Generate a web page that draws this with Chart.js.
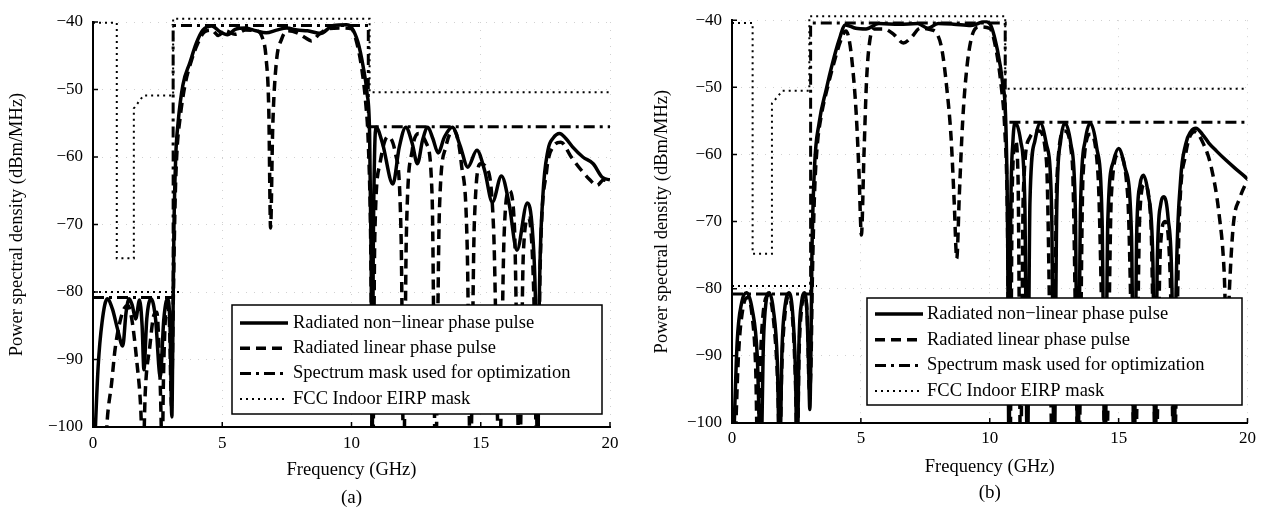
<!DOCTYPE html>
<html>
<head>
<meta charset="utf-8">
<script src="https://cdn.jsdelivr.net/npm/chart.js@4.4.1/dist/chart.umd.min.js"></script>
<style>
  html, body { margin: 0; padding: 0; background: #fff; }
  #wrap { position: relative; width: 1261px; height: 516px; }
  canvas { position: absolute; top: 0; }
  #psdA { left: 0; }
  #psdB { left: 630px; }
</style>
</head>
<body>
<div id="wrap">
  <canvas id="psdA" width="630" height="516"></canvas>
  <canvas id="psdB" width="631" height="516"></canvas>
</div>
<script>
// [frequency GHz, PSD dBm/MHz]; values below -100 are nulls that run off the axis
const nonlinA = [
  [0.05,-104],[0.2,-91],[0.35,-84.5],[0.55,-81],[0.75,-82.5],[0.95,-85.5],[1.15,-88],[1.28,-83],[1.4,-81],
  [1.52,-82],[1.65,-84],[1.8,-81.2],[1.9,-85],[1.97,-91.5],[2.08,-84],[2.25,-81],[2.42,-84],[2.6,-92.5],
  [2.74,-84],[2.88,-81],[2.98,-85],[3.05,-98.5],[3.09,-86],[3.13,-71],[3.2,-60],[3.29,-55],[3.48,-49.3],
  [3.75,-46],[4.0,-43.1],[4.25,-41.2],[4.6,-40.6],[4.9,-41.4],[5.2,-41.9],[5.5,-41.1],[5.9,-40.9],[6.3,-41.3],
  [6.7,-41.6],[7.1,-41.2],[7.5,-40.9],[7.9,-41.2],[8.3,-41.3],[8.8,-41.7],[9.3,-40.5],[9.8,-40.4],[10.0,-40.8],
  [10.25,-43],[10.45,-46.6],[10.6,-50.5],[10.7,-56.5],[10.76,-75],[10.8,-105],[10.84,-75],[10.89,-60],
  [10.95,-55.6],[11.2,-58],[11.6,-64],[11.85,-58.5],[12.1,-55.6],[12.35,-58],[12.55,-61],[12.75,-57.5],
  [12.95,-55.6],[13.15,-57.3],[13.35,-59.4],[13.6,-57],[13.9,-55.6],[14.2,-58.3],[14.5,-61.5],[14.85,-59],
  [15.15,-62],[15.45,-66.7],[15.8,-62.8],[16.1,-67],[16.4,-73.8],[16.8,-66.8],[17.0,-71],[17.12,-82],
  [17.2,-105],[17.27,-80],[17.4,-66],[17.6,-59],[17.8,-57.2],[18.05,-56.5],[18.3,-57.3],[18.55,-58.5],
  [18.95,-60],[19.35,-61],[19.7,-63],[20,-63.4]
];
const linA = [
  [0.45,-106],[0.55,-99],[0.72,-93.5],[0.85,-88.6],[1.03,-84.6],[1.2,-82.5],[1.35,-82],[1.5,-84],[1.7,-90.5],
  [1.85,-97.5],[1.93,-106],[2.02,-95],[2.2,-88],[2.35,-83.5],[2.47,-83],[2.56,-89],[2.63,-98],[2.67,-106],
  [2.73,-92],[2.85,-82],[2.95,-84],[3.04,-97],[3.08,-88],[3.12,-78],[3.18,-66],[3.25,-59],[3.36,-54.5],
  [3.55,-49.5],[3.8,-45.8],[4.05,-43.2],[4.3,-41.5],[4.6,-41.2],[4.85,-42],[5.1,-41.3],[5.5,-41.8],[5.9,-41.2],
  [6.3,-41.3],[6.55,-42.3],[6.7,-45.5],[6.8,-53],[6.87,-70.5],[6.95,-56],[7.08,-46.5],[7.3,-42.5],[7.55,-41.3],
  [7.9,-41.6],[8.2,-42.3],[8.45,-42.8],[8.75,-41.8],[9.1,-41],[9.6,-40.9],[10.0,-41],[10.2,-43],[10.4,-47],
  [10.55,-52],[10.65,-58],[10.74,-72],[10.82,-106],[10.9,-72],[11.1,-61],[11.4,-57],[11.7,-59.5],[11.92,-72],
  [12.02,-106],[12.12,-72],[12.35,-59],[12.6,-56.5],[12.9,-58],[13.12,-66],[13.25,-106],[13.4,-68],
  [13.65,-58.5],[13.95,-56],[14.25,-61],[14.48,-74],[14.6,-106],[14.75,-70],[15.0,-61],[15.2,-61.5],
  [15.5,-71],[15.72,-106],[15.9,-72],[16.1,-65],[16.3,-70],[16.5,-106],[16.65,-74],[16.85,-69],[17.05,-80],
  [17.18,-106],[17.3,-76],[17.55,-62],[17.8,-58.5],[18.1,-57.8],[18.5,-60],[18.9,-62],[19.2,-63.3],
  [19.5,-64.2],[19.75,-63.4],[20,-63.8]
];
const maskA = [[0,-80.8],[3.1,-80.8],[3.1,-40.5],[10.65,-40.5],[10.65,-55.5],[20,-55.5]];
const fccA = [
  [0,-40.1],[0.92,-40.1],[0.92,-75],[1.58,-75],[1.58,-52.8],[1.95,-50.9],[3.1,-50.9],[3.1,-39.5],
  [10.7,-39.5],[10.7,-50.4],[20,-50.4],[20,null],[0,-80],[3.4,-80]
];

const nonlinB = [
  [0.04,-106],[0.2,-88],[0.38,-82],[0.56,-80.6],[0.78,-83],[0.98,-90],[1.12,-106],[1.22,-88],[1.32,-82],
  [1.44,-80.6],[1.6,-83],[1.76,-91],[1.85,-106],[1.94,-89],[2.06,-82.5],[2.2,-80.6],[2.34,-83],[2.46,-92],
  [2.53,-106],[2.6,-88],[2.7,-82],[2.8,-80.6],[2.9,-83],[2.97,-91],[3.02,-98],[3.06,-90],[3.1,-75.3],
  [3.2,-62],[3.38,-55.3],[3.65,-50.4],[3.9,-46.4],[4.15,-43],[4.4,-40.7],[4.8,-41.2],[5.2,-41.3],[5.7,-40.5],
  [6.5,-40.6],[7.2,-40.5],[7.6,-41.2],[8.0,-40.5],[8.6,-40.6],[9.27,-40.8],[9.8,-40.2],[10.0,-40.5],
  [10.3,-44.5],[10.5,-49.4],[10.62,-55],[10.69,-70],[10.75,-106],[10.81,-70],[10.9,-58],[11.0,-55.3],
  [11.2,-58],[11.36,-67],[11.46,-106],[11.56,-67],[11.75,-58],[11.96,-55.3],[12.2,-58.5],[12.4,-68],
  [12.5,-106],[12.6,-68],[12.75,-58],[12.92,-55.3],[13.15,-58.5],[13.32,-68],[13.42,-106],[13.52,-68],
  [13.7,-58],[13.9,-55.3],[14.15,-59],[14.36,-70],[14.47,-106],[14.58,-70],[14.8,-61],[15.0,-59.1],
  [15.25,-62],[15.5,-72],[15.6,-106],[15.7,-72],[15.83,-64.5],[15.96,-63.1],[16.15,-66],[16.33,-76],
  [16.42,-106],[16.5,-76],[16.63,-67.5],[16.76,-66.3],[16.92,-69.5],[17.07,-80],[17.15,-106],[17.23,-80],
  [17.4,-64],[17.6,-58.5],[17.8,-56.6],[18.0,-56.1],[18.25,-57],[18.5,-58.3],[18.8,-59.5],[19.15,-60.8],
  [19.5,-62],[19.9,-63.3],[20,-63.7]
];
const linB = [
  [0.1,-106],[0.25,-90],[0.42,-83],[0.6,-81.3],[0.78,-84],[0.92,-92],[1.0,-106],[1.08,-93],[1.2,-84],
  [1.42,-81],[1.62,-85],[1.78,-95],[1.85,-106],[1.93,-92],[2.05,-84],[2.2,-81],[2.36,-85],[2.47,-95],
  [2.53,-106],[2.6,-90],[2.7,-83],[2.8,-81],[2.92,-84],[3.0,-95],[3.06,-92],[3.12,-78],[3.2,-66],[3.3,-59],
  [3.45,-54.5],[3.72,-49.8],[3.98,-46],[4.22,-43],[4.42,-41.6],[4.55,-43],[4.68,-47],[4.82,-54],[4.93,-63],
  [5.02,-72],[5.12,-60],[5.22,-49],[5.33,-43.5],[5.5,-41.3],[5.9,-41.3],[6.3,-42.2],[6.65,-43.4],[6.95,-42.6],
  [7.3,-41.2],[7.7,-41.4],[7.98,-42.2],[8.15,-44.5],[8.33,-50],[8.5,-57.5],[8.62,-67],[8.72,-75.5],
  [8.82,-66],[8.95,-55],[9.1,-47.5],[9.3,-42.5],[9.6,-41],[10.0,-41.2],[10.25,-44.5],[10.45,-50],[10.58,-56],
  [10.68,-68],[10.78,-106],[10.88,-64],[11.0,-58],[11.1,-64],[11.2,-106],[11.3,-66],[11.55,-57.5],
  [11.9,-56.5],[12.2,-61],[12.45,-106],[12.6,-64],[12.9,-56.5],[13.2,-61],[13.45,-106],[13.62,-63],
  [13.9,-57],[14.2,-63],[14.52,-106],[14.72,-66],[15.0,-60],[15.35,-66],[15.65,-106],[15.82,-69],[16.0,-64.5],
  [16.25,-70],[16.45,-106],[16.62,-74],[16.8,-70],[17.0,-78],[17.15,-106],[17.35,-70],[17.6,-60],
  [17.95,-56.6],[18.3,-58.5],[18.6,-62],[18.9,-69],[19.1,-78],[19.2,-90],[19.3,-80],[19.45,-70.5],
  [19.7,-66.5],[20,-63.8]
];
const maskB = [[0,-80.8],[3.05,-80.8],[3.05,-40.4],[10.6,-40.4],[10.6,-55.2],[20,-55.2]];
const fccB = [
  [0,-40.4],[0.8,-40.4],[0.8,-74.8],[1.55,-74.8],[1.55,-52.4],[1.96,-50.5],[3.0,-50.5],[3.0,-39.4],
  [10.6,-39.4],[10.6,-50.2],[20,-50.2],[20,null],[0,-79.6],[3.3,-79.6]
];

const seriesNames = [
  'Radiated non\u2212linear phase pulse',
  'Radiated linear phase pulse',
  'Spectrum mask used for optimization',
  'FCC Indoor EIRP mask'
];
const freqTicks = [0, 5, 10, 15, 20];
const psdTicks = [-40, -50, -60, -70, -80, -90, -100];

const SERIF = '"Liberation Serif", "Times New Roman", serif';
Chart.defaults.font.family = SERIF;
Chart.defaults.font.size = 17;
Chart.defaults.color = '#000';
const titleFont = { size: 18.5 };

const pts = pairs => pairs.map(([x, y]) => ({ x, y }));

// matlab-style boxed legend inside the axes
const boxLegend = {
  id: 'boxLegend',
  afterDatasetsDraw(chart, args, o) {
    const { ctx } = chart;
    ctx.save();
    ctx.fillStyle = '#fff';
    ctx.fillRect(o.x, o.y, o.w, o.h);
    ctx.strokeStyle = '#000';
    ctx.lineWidth = 1.5;
    ctx.setLineDash([]);
    ctx.strokeRect(o.x, o.y, o.w, o.h);
    ctx.font = '18.5px ' + SERIF;
    ctx.textBaseline = 'middle';
    chart.data.datasets.forEach((ds, i) => {
      const cy = o.y + o.rowTop + i * o.rowGap;
      ctx.beginPath();
      ctx.setLineDash(ds.borderDash);
      ctx.lineWidth = ds.borderWidth;
      ctx.moveTo(o.x + o.lineFrom, cy);
      ctx.lineTo(o.x + o.lineTo, cy);
      ctx.stroke();
      ctx.setLineDash([]);
      ctx.fillStyle = '#000';
      ctx.fillText(ds.label, o.x + o.textAt, cy);
    });
    ctx.restore();
  }
};

// short inward tick marks plus the (a)/(b) caption
const frame = {
  id: 'frame',
  afterDraw(chart, args, o) {
    const { ctx, chartArea: a, scales: { x, y } } = chart;
    ctx.save();
    ctx.strokeStyle = '#000';
    ctx.lineWidth = 1.5;
    ctx.beginPath();
    freqTicks.forEach(v => {
      const px = x.getPixelForValue(v);
      ctx.moveTo(px, a.bottom);
      ctx.lineTo(px, a.bottom - 5);
    });
    psdTicks.forEach(v => {
      const py = y.getPixelForValue(v);
      ctx.moveTo(a.left, py);
      ctx.lineTo(a.left + 5, py);
    });
    ctx.stroke();
    ctx.font = '19px ' + SERIF;
    ctx.fillStyle = '#000';
    ctx.textAlign = 'center';
    ctx.textBaseline = 'middle';
    ctx.fillText(o.caption, (a.left + a.right) / 2, o.captionY);
    ctx.restore();
  }
};

const styles = [
  { borderDash: [], borderWidth: 3.5, cubicInterpolationMode: 'monotone' },
  { borderDash: [10, 6], borderWidth: 3.5, cubicInterpolationMode: 'monotone' },
  { borderDash: [11, 5, 3, 5], borderWidth: 3, tension: 0 },
  { borderDash: [2, 4], borderWidth: 2, tension: 0, clip: { left: 0, top: 8, right: 0, bottom: 0 } }
];

function drawPsd(id, series, look) {
  const datasets = series.map((s, i) => Object.assign({
    label: seriesNames[i],
    data: pts(s),
    showLine: true,
    pointRadius: 0,
    borderColor: '#000',
    spanGaps: false
  }, styles[i]));

  return new Chart(document.getElementById(id), {
    type: 'scatter',
    data: { datasets },
    plugins: [boxLegend, frame],
    options: {
      responsive: false,
      animation: false,
      devicePixelRatio: 1,
      layout: { padding: { left: 0, right: look.padRight, top: look.top, bottom: 0 } },
      plugins: {
        legend: { display: false },
        tooltip: { enabled: false },
        boxLegend: look.legend,
        frame: { caption: look.caption, captionY: look.captionY }
      },
      scales: {
        x: {
          type: 'linear', min: 0, max: 20,
          afterFit: s => { s.height = look.xHeight; },
          ticks: { stepSize: 5, padding: look.xTickPad, maxRotation: 0, autoSkip: false },
          grid: { color: 'rgba(0,0,0,0.18)', drawTicks: false },
          border: { display: true, color: '#000', width: 2, dash: [1, 7] },
          title: { display: true, text: 'Frequency (GHz)', font: titleFont, padding: { top: 0, bottom: look.xTitlePad } }
        },
        y: {
          type: 'linear', min: -100, max: -40,
          afterFit: s => { s.width = look.yWidth; },
          ticks: { stepSize: 10, padding: 10, callback: v => String(v).replace('-', '\u2212') },
          grid: { color: 'rgba(0,0,0,0.18)', drawTicks: false },
          border: { display: true, color: '#000', width: 2, dash: [1, 7] },
          title: { display: true, text: 'Power spectral density (dBm/MHz)', font: titleFont, padding: { top: look.yTitlePad, bottom: 0 } }
        }
      }
    }
  });
}

drawPsd('psdA', [nonlinA, linA, maskA, fccA], {
  padRight: 20, top: 22, xHeight: 89, yWidth: 93, xTickPad: 6, xTitlePad: 35, yTitlePad: 6,
  caption: '(a)', captionY: 498,
  legend: { x: 232, y: 305, w: 370, h: 109, rowTop: 18, rowGap: 25.3, lineFrom: 8, lineTo: 56, textAt: 61 }
});
drawPsd('psdB', [nonlinB, linB, maskB, fccB], {
  padRight: 9, top: 20, xHeight: 93, yWidth: 102, xTickPad: 5, xTitlePad: 38, yTitlePad: 21,
  caption: '(b)', captionY: 493,
  legend: { x: 237, y: 298, w: 375, h: 107, rowTop: 16, rowGap: 25.7, lineFrom: 8, lineTo: 56, textAt: 60 }
});
</script>
</body>
</html>
